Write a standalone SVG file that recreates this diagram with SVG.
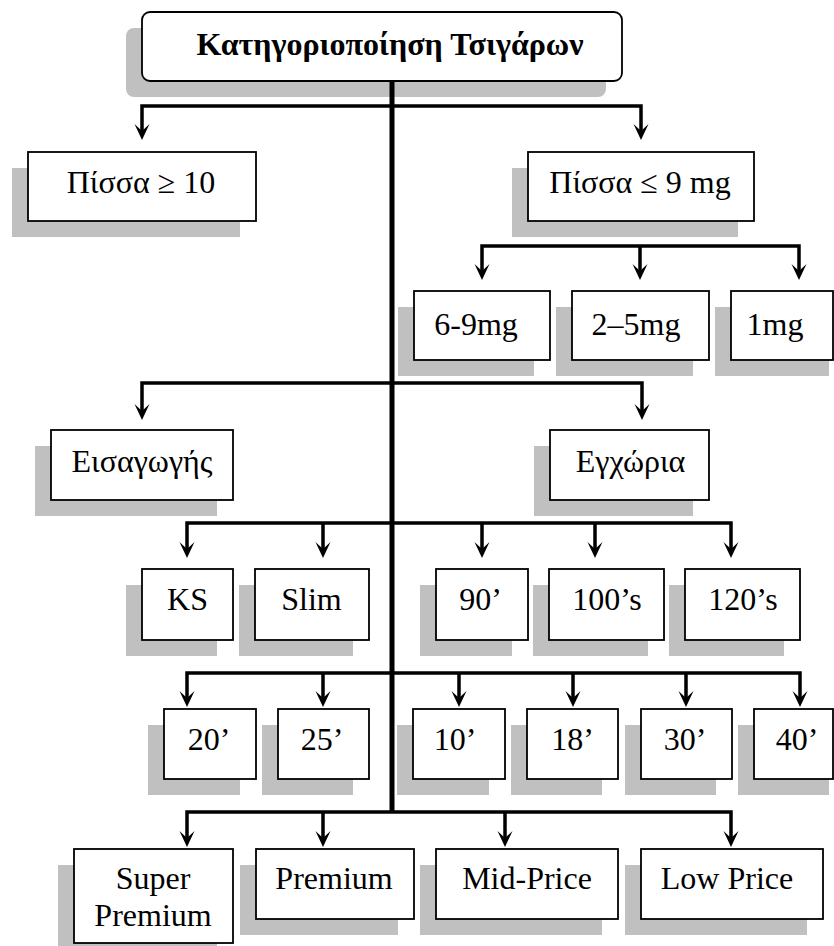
<svg xmlns="http://www.w3.org/2000/svg" xmlns:xlink="http://www.w3.org/1999/xlink" width="834" height="946" viewBox="0 0 834 946">
<style>
.sh{fill:#c0c0c0}
.bx{fill:#fff;stroke:#000;stroke-width:1.8}
.t{font-size:32px;fill:#000;text-anchor:middle}
.b{font-weight:bold}
.c{fill:none;stroke:#000;stroke-width:3.5;stroke-linejoin:miter;stroke-linecap:butt}
.tr{stroke-width:5}
</style>
<defs>
<path id="ah" d="M0,0 L-7.5,-16 L0,-9 L7.5,-16 Z" fill="#000"/>
</defs>
<rect width="834" height="946" fill="#fff"/>
<g font-family="Liberation Serif, Times New Roman, DejaVu Serif, serif">
<g id="n-title"><rect class="sh" x="126" y="28" width="480" height="69" rx="8"/><rect class="bx" x="142" y="12" width="480" height="69" rx="8"/><text class="t b" x="390" y="55">Κατηγοριοποίηση Τσιγάρων</text></g>
<g id="n-pissa10"><rect class="sh" x="12" y="168" width="228" height="69"/><rect class="bx" x="28" y="152" width="228" height="69"/><text class="t" x="141" y="192.5">Πίσσα ≥ 10</text></g>
<g id="n-pissa9"><rect class="sh" x="512" y="168" width="226" height="69"/><rect class="bx" x="528" y="152" width="226" height="69"/><text class="t" x="640" y="192.5">Πίσσα ≤ 9 mg</text></g>
<g id="n-69mg"><rect class="sh" x="398" y="307" width="136" height="69"/><rect class="bx" x="414" y="291" width="136" height="69"/><text class="t" x="476" y="335">6-9mg</text></g>
<g id="n-25mg"><rect class="sh" x="556" y="307" width="137" height="69"/><rect class="bx" x="572" y="291" width="137" height="69"/><text class="t" x="636" y="335">2–5mg</text></g>
<g id="n-1mg"><rect class="sh" x="715" y="307" width="114" height="69"/><rect class="bx" x="731" y="291" width="102" height="69"/><text class="t" x="775" y="335">1mg</text></g>
<g id="n-eisagogis"><rect class="sh" x="35" y="446" width="182" height="70"/><rect class="bx" x="51" y="430" width="182" height="70"/><text class="t" x="142" y="471.5">Εισαγωγής</text></g>
<g id="n-egxoria"><rect class="sh" x="534" y="446" width="159" height="70"/><rect class="bx" x="550" y="430" width="159" height="70"/><text class="t" x="630.5" y="471.5">Εγχώρια</text></g>
<g id="n-ks"><rect class="sh" x="126" y="585" width="91" height="71"/><rect class="bx" x="142" y="569" width="91" height="71"/><text class="t" x="187.5" y="610">KS</text></g>
<g id="n-slim"><rect class="sh" x="239" y="585" width="114" height="71"/><rect class="bx" x="255" y="569" width="114" height="71"/><text class="t" x="311.5" y="610">Slim</text></g>
<g id="n-90"><rect class="sh" x="420" y="585" width="92" height="71"/><rect class="bx" x="436" y="569" width="92" height="71"/><text class="t" x="480.5" y="610">90’</text></g>
<g id="n-100"><rect class="sh" x="533" y="585" width="115" height="71"/><rect class="bx" x="549" y="569" width="115" height="71"/><text class="t" x="607" y="610">100’s</text></g>
<g id="n-120"><rect class="sh" x="669" y="585" width="115" height="71"/><rect class="bx" x="685" y="569" width="115" height="71"/><text class="t" x="743" y="610">120’s</text></g>
<g id="n-20"><rect class="sh" x="148" y="725" width="92" height="70"/><rect class="bx" x="164" y="709" width="92" height="70"/><text class="t" x="209" y="749.5">20’</text></g>
<g id="n-25"><rect class="sh" x="262" y="725" width="91" height="70"/><rect class="bx" x="278" y="709" width="91" height="70"/><text class="t" x="322" y="749.5">25’</text></g>
<g id="n-10"><rect class="sh" x="397" y="725" width="92" height="70"/><rect class="bx" x="413" y="709" width="92" height="70"/><text class="t" x="455" y="749.5">10’</text></g>
<g id="n-18"><rect class="sh" x="511" y="725" width="91" height="70"/><rect class="bx" x="527" y="709" width="91" height="70"/><text class="t" x="572.5" y="749.5">18’</text></g>
<g id="n-30"><rect class="sh" x="625" y="725" width="91" height="70"/><rect class="bx" x="641" y="709" width="91" height="70"/><text class="t" x="685" y="749.5">30’</text></g>
<g id="n-40"><rect class="sh" x="738" y="725" width="91" height="70"/><rect class="bx" x="754" y="709" width="79" height="70"/><text class="t" x="797" y="749.5">40’</text></g>
<g id="n-superpremium"><rect class="sh" x="58" y="865" width="159" height="94"/><rect class="bx" x="74" y="849" width="159" height="94"/><text class="t" x="153" y="889">Super</text><text class="t" x="153" y="925.5">Premium</text></g>
<g id="n-premium"><rect class="sh" x="240" y="865" width="158" height="70"/><rect class="bx" x="256" y="849" width="158" height="70"/><text class="t" x="334" y="889">Premium</text></g>
<g id="n-midprice"><rect class="sh" x="420" y="865" width="182" height="70"/><rect class="bx" x="436" y="849" width="182" height="70"/><text class="t" x="527" y="889">Mid-Price</text></g>
<g id="n-lowprice"><rect class="sh" x="625" y="865" width="182" height="70"/><rect class="bx" x="641" y="849" width="182" height="70"/><text class="t" x="727" y="889">Low Price</text></g>
</g>
<g id="connectors">
<path class="c tr" d="M392,81 V813"/>
<path class="c" d="M142,131 V106 H641 V131"/>
<path class="c" d="M482,271 V246 H799 V271 M640,246 V271"/>
<path class="c" d="M142,411 V383 H642 V411"/>
<path class="c" d="M187,549 V523 H731 V549 M323,523 V549 M482,523 V549 M595,523 V549"/>
<path class="c" d="M187,698 V673 H800 V698 M323,673 V698 M459,673 V698 M573,673 V698 M686,673 V698"/>
<path class="c" d="M187,838 V812 H731 V838 M323,812 V838 M505,812 V838"/>
<use xlink:href="#ah" x="142" y="140"/><use xlink:href="#ah" x="641" y="140"/>
<use xlink:href="#ah" x="482" y="280"/><use xlink:href="#ah" x="640" y="280"/><use xlink:href="#ah" x="799" y="280"/>
<use xlink:href="#ah" x="142" y="420"/><use xlink:href="#ah" x="642" y="420"/>
<use xlink:href="#ah" x="187" y="558"/><use xlink:href="#ah" x="323" y="558"/><use xlink:href="#ah" x="482" y="558"/><use xlink:href="#ah" x="595" y="558"/><use xlink:href="#ah" x="731" y="558"/>
<use xlink:href="#ah" x="187" y="707"/><use xlink:href="#ah" x="323" y="707"/><use xlink:href="#ah" x="459" y="707"/><use xlink:href="#ah" x="573" y="707"/><use xlink:href="#ah" x="686" y="707"/><use xlink:href="#ah" x="800" y="707"/>
<use xlink:href="#ah" x="187" y="847"/><use xlink:href="#ah" x="323" y="847"/><use xlink:href="#ah" x="505" y="847"/><use xlink:href="#ah" x="731" y="847"/>
</g>
</svg>
